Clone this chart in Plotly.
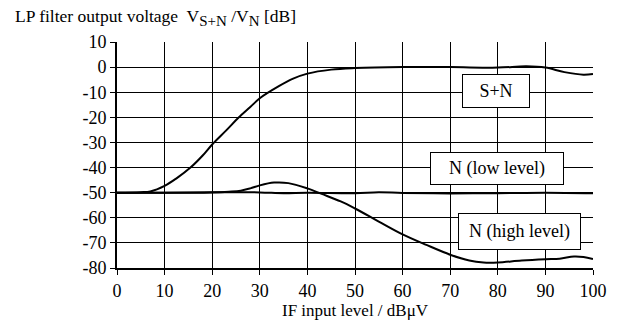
import plotly.graph_objects as go

# IF input level (dBµV) and LP filter output (dB) for each curve
sn_x = [0, 5, 7, 10, 12.5, 15.5, 18, 20, 23, 25.5, 28, 30, 34, 37, 40, 45, 50, 60, 70, 80, 86, 90, 94, 98, 100]
sn_y = [-50, -49.8, -49.5, -47.3, -44.3, -39.9, -35.2, -30.8, -25.1, -20.2, -15.9, -12.4, -7.6, -4.6,
        -2.6, -1.0, -0.4, 0, 0, -0.2, 0.3, -0.2, -2, -3, -2.7]

low_x = [0, 10, 20, 30, 35, 40, 50, 55, 60, 70, 80, 90, 100]
low_y = [-50, -50, -49.8, -49.9, -50.2, -50, -50.2, -49.8, -50.1, -50.3, -50.2, -50, -50.2]

high_x = [0, 10, 15, 20, 23.5, 26, 28, 30, 33, 36, 40, 43, 47, 50, 55, 60, 65, 70, 74, 77, 80, 85, 90, 93, 96, 98, 100]
high_y = [-50, -50, -50, -49.9, -49.6, -49.2, -48.3, -47.1, -46, -46.2, -48.3, -50.5, -53.5, -56.3,
          -61.5, -66.6, -70.8, -74.7, -77, -77.8, -77.8, -77, -76.5, -76.3, -75.4, -75.6, -76.4]

x_ticks = list(range(0, 101, 10))
y_ticks = list(range(-80, 11, 10))

# curve labels: text, x, y, box width, box height
labels = [
    ("S+N", 79.6, -9.7, 66, 32),
    ("N (low level)", 79.9, -40.5, 132, 31),
    ("N (high level)", 84.5, -65.6, 121, 35),
]

FONT = "Liberation Serif"
BLACK = "#000000"

fig = go.Figure()
for xs, ys in [(sn_x, sn_y), (low_x, low_y), (high_x, high_y)]:
    fig.add_trace(go.Scatter(x=xs, y=ys, mode="lines",
                             line=dict(color=BLACK, width=2, shape="spline", smoothing=1.0),
                             showlegend=False, hoverinfo="skip"))

for text, lx, ly, w, h in labels:
    fig.add_annotation(x=lx, y=ly, text=text, showarrow=False,
                       font=dict(family=FONT, size=18, color=BLACK),
                       bgcolor="white", bordercolor=BLACK, borderwidth=1,
                       borderpad=0, width=w, height=h)

# axis titles placed as paper annotations so the plot area keeps its size
fig.add_annotation(xref="paper", yref="paper", x=-0.218, y=1.11,
                   xanchor="left", yanchor="middle", showarrow=False,
                   text=("LP filter output voltage\u00a0 V<sub><span style='font-size:15px'>S+N</span></sub>"
                         " /V<sub><span style='font-size:15px'>N</span></sub> [dB]"),
                   font=dict(family=FONT, size=17.5, color=BLACK))
fig.add_annotation(xref="paper", yref="paper", x=0.5, y=-0.188,
                   xanchor="center", yanchor="middle", showarrow=False,
                   text="IF input level / dBμV",
                   font=dict(family=FONT, size=17, color=BLACK))

fig.update_xaxes(range=[0, 100], tickvals=x_ticks, ticktext=[str(v) for v in x_ticks],
                 showgrid=True, gridcolor=BLACK, gridwidth=1,
                 showline=True, linecolor=BLACK, linewidth=2,
                 ticks="outside", ticklen=5, tickcolor=BLACK, tickwidth=1,
                 zeroline=False, automargin=False,
                 tickfont=dict(family=FONT, size=18, color=BLACK))
fig.update_yaxes(range=[-80, 10], tickvals=y_ticks, ticktext=[str(v) for v in y_ticks],
                 showgrid=True, gridcolor=BLACK, gridwidth=1,
                 showline=True, linecolor=BLACK, linewidth=2,
                 ticks="outside", ticklen=5, tickcolor=BLACK, tickwidth=1,
                 zeroline=False, automargin=False,
                 tickfont=dict(family=FONT, size=18, color=BLACK))

fig.update_layout(width=623, height=326,
                  margin=dict(l=117, r=30, t=42, b=58),
                  paper_bgcolor="white", plot_bgcolor="white",
                  font=dict(family=FONT, color=BLACK))

fig.write_html("out.html")
